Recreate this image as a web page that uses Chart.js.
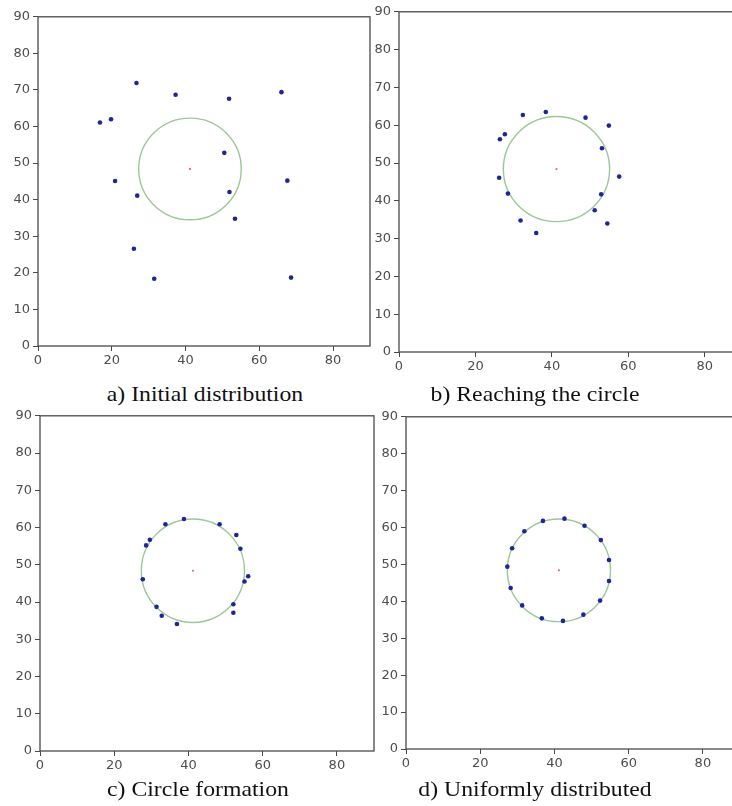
<!DOCTYPE html>
<html>
<head>
<meta charset="utf-8">
<script src="https://cdn.jsdelivr.net/npm/chart.js@4.4.0/dist/chart.umd.min.js"></script>
<style>
  html, body { margin: 0; padding: 0; background: #fff; width: 732px; height: 806px; overflow: hidden; position: relative; }
  canvas { position: absolute; }
  .caption {
    position: absolute;
    font-family: "Liberation Serif", "Times New Roman", serif;
    font-size: 21px;
    line-height: 21px;
    color: #111;
    white-space: nowrap;
    transform: translateX(-50%) scaleX(1.13);
  }
</style>
</head>
<body>
<script>
// target circle (center x, center y) and its radius
const circleCenter = [41.2, 48.4];
const circleRadius = [13.9];

// axis ticks
const xTicks = [0, 20, 40, 60, 80];
const yTicks = [0, 10, 20, 30, 40, 50, 60, 70, 80, 90];

// a) Initial distribution
const initX = [26.7, 37.3, 51.8, 66.0, 16.8, 19.8, 50.5, 20.9, 67.6, 26.9, 51.9, 53.4, 26.0, 31.5, 68.6];
const initY = [71.9, 68.7, 67.6, 69.4, 61.1, 62.0, 52.8, 45.1, 45.2, 41.1, 42.1, 34.8, 26.6, 18.4, 18.7];

// b) Reaching the circle
const reachX = [32.4, 38.4, 48.8, 54.9, 26.4, 27.7, 53.1, 26.2, 57.6, 28.5, 52.9, 31.8, 35.9, 51.2, 54.5];
const reachY = [62.7, 63.5, 62.0, 59.9, 56.3, 57.6, 53.9, 46.1, 46.4, 41.9, 41.7, 34.8, 31.5, 37.5, 34.0];

// c) Circle formation
const formX = [38.8, 33.8, 48.4, 52.9, 29.6, 28.6, 54.0, 27.7, 56.1, 55.1, 31.4, 32.8, 36.9, 52.1, 52.1];
const formY = [62.3, 60.9, 60.9, 58.0, 56.7, 55.2, 54.3, 46.1, 46.9, 45.5, 38.7, 36.3, 34.1, 39.4, 37.1];

// d) Uniformly distributed
const uniX = [42.7, 36.9, 48.1, 31.9, 52.5, 28.6, 54.7, 27.3, 54.7, 28.2, 31.3, 36.6, 42.3, 47.8, 52.3];
const uniY = [62.4, 61.8, 60.5, 59.0, 56.6, 54.4, 51.2, 49.4, 45.5, 43.6, 38.9, 35.4, 34.7, 36.4, 40.2];

const captions = ["a) Initial distribution", "b) Reaching the circle", "c) Circle formation", "d) Uniformly distributed"];

// where each plot box sits on the page (l, t, r, b) and where its caption goes
const panels = [
  { xs: initX, ys: initY, area: { l: 38, t: 15, r: 370, b: 346 }, cap: { x: 205, base: 402 } },
  { xs: reachX, ys: reachY, area: { l: 399, t: 10, r: 743, b: 352 }, cap: { x: 535, base: 402 } },
  { xs: formX, ys: formY, area: { l: 40, t: 414, r: 374, b: 751 }, cap: { x: 198, base: 797 } },
  { xs: uniX, ys: uniY, area: { l: 406, t: 415, r: 740, b: 749 }, cap: { x: 535, base: 797 } },
];

// draws the green target circle in data units plus the box around the plot
const ringPlugin = {
  id: "ring",
  beforeDatasetsDraw(chart) {
    const { ctx, scales } = chart;
    const x = scales.x, y = scales.y;
    const cx = x.getPixelForValue(circleCenter[0]);
    const cy = y.getPixelForValue(circleCenter[1]);
    const rx = Math.abs(x.getPixelForValue(circleCenter[0] + circleRadius[0]) - cx);
    const ry = Math.abs(y.getPixelForValue(circleCenter[1] + circleRadius[0]) - cy);
    ctx.save();
    ctx.beginPath();
    ctx.ellipse(cx, cy, rx, ry, 0, 0, Math.PI * 2);
    ctx.strokeStyle = "#9cc79a";
    ctx.lineWidth = 1.4;
    ctx.stroke();
    ctx.restore();
  },
  afterDraw(chart) {
    const { ctx, chartArea } = chart;
    ctx.save();
    ctx.strokeStyle = "#4a4a4a";
    ctx.lineWidth = 1.3;
    ctx.strokeRect(chartArea.left, chartArea.top, chartArea.right - chartArea.left, chartArea.bottom - chartArea.top);
    ctx.restore();
  },
};

const padL = 38, padT = 9, padR = 10, padB = 27;
const tickFont = { family: "DejaVu Sans", size: 13 };

panels.forEach(function (p, i) {
  const canvas = document.createElement("canvas");
  const w = p.area.r - p.area.l + padL + padR;
  const h = p.area.b - p.area.t + padT + padB;
  canvas.width = w;
  canvas.height = h;
  canvas.style.width = w + "px";
  canvas.style.height = h + "px";
  canvas.style.left = (p.area.l - padL) + "px";
  canvas.style.top = (p.area.t - padT) + "px";
  document.body.appendChild(canvas);

  const points = p.xs.map((x, k) => ({ x: x, y: p.ys[k] }));

  new Chart(canvas.getContext("2d"), {
    type: "scatter",
    data: {
      datasets: [
        {
          data: points,
          backgroundColor: "#1c2697",
          borderColor: "#1c2697",
          pointRadius: 2.3,
          borderWidth: 0,
        },
        {
          data: [{ x: circleCenter[0], y: circleCenter[1] }],
          backgroundColor: "#e06a6a",
          borderWidth: 0,
          pointRadius: 1.1,
        },
      ],
    },
    options: {
      responsive: false,
      animation: false,
      events: [],
      layout: { padding: { top: padT, right: padR, left: 0, bottom: 0 } },
      plugins: { legend: { display: false }, tooltip: { enabled: false } },
      scales: {
        x: {
          type: "linear",
          min: 0,
          max: 90,
          afterFit: (s) => { s.height = padB; },
          afterBuildTicks: (s) => { s.ticks = xTicks.map((v) => ({ value: v })); },
          ticks: { color: "#4d4d4d", font: tickFont, padding: 2, maxRotation: 0 },
          grid: { drawOnChartArea: false, tickLength: 5, color: "#4a4a4a" },
          border: { display: false },
        },
        y: {
          type: "linear",
          min: 0,
          max: 90,
          afterFit: (s) => { s.width = padL; },
          afterBuildTicks: (s) => { s.ticks = yTicks.map((v) => ({ value: v })); },
          ticks: { color: "#4d4d4d", font: tickFont, padding: 3 },
          grid: { drawOnChartArea: false, tickLength: 5, color: "#4a4a4a" },
          border: { display: false },
        },
      },
    },
    plugins: [ringPlugin],
  });

  // caption under each panel, baseline placed by hand
  const cap = document.createElement("div");
  cap.className = "caption";
  cap.textContent = captions[i];
  cap.style.left = p.cap.x + "px";
  cap.style.top = (p.cap.base - 17.6) + "px";
  document.body.appendChild(cap);
});
</script>
</body>
</html>
